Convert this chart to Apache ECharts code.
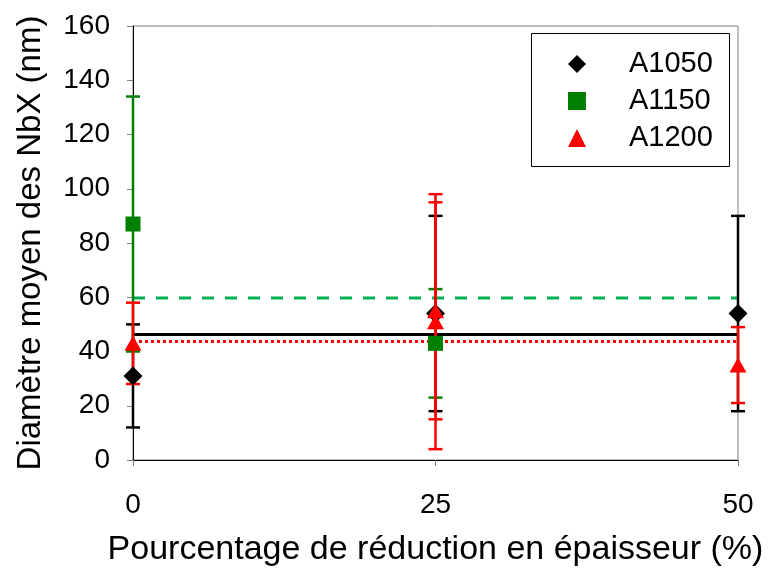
<!DOCTYPE html>
<html>
<head>
<meta charset="utf-8">
<script src="https://cdn.jsdelivr.net/npm/echarts@6/dist/echarts.min.js"></script>
<style>
html,body{margin:0;padding:0;background:#fff;}
#chart{width:769px;height:572px;}
</style>
</head>
<body>
<div id="chart"></div>
<script>
// ---- data ----
const seriesNames = ['A1050', 'A1150', 'A1200'];
const xTicks = [0, 25, 50];

const a1050X = [0, 25, 50];
const a1050Mean = [31, 54, 54];
const a1050Low = [12, 18, 18];
const a1050High = [50, 90, 90];

const a1150X = [0, 25];
const a1150Mean = [87, 43];
const a1150Low = [40, 23];
const a1150High = [134, 63];

const a1200X = [0, 25, 25, 50];
const a1200Mean = [43, 55, 51, 35];
const a1200Low = [28, 15, 4, 21];
const a1200High = [58, 95, 98, 49];

// average (horizontal reference) lines
const avgLineX = [0, 50];
const a1050Avg = 46.3;
const a1150Avg = 59.7;
const a1200Avg = 43.7;

// ---- styles ----
const colors = { A1050: '#000000', A1150: '#008000', A1200: '#FF0000' };
const FONT = '"Liberation Sans", Arial, sans-serif';

function pts(xs, ys) { return xs.map((x, i) => [x, ys[i]]); }
function errData(xs, lo, hi) { return xs.map((x, i) => [x, lo[i], hi[i]]); }

function errorSeries(name, data, color, z) {
  return {
    type: 'custom',
    name: name + '_err',
    z: z,
    silent: true,
    data: data,
    encode: { x: 0, y: [1, 2] },
    renderItem: function (params, api) {
      const x = api.value(0);
      const top = api.coord([x, api.value(2)]);
      const bot = api.coord([x, api.value(1)]);
      const hw = 7;
      const style = { stroke: color, lineWidth: 2.5 };
      return {
        type: 'group',
        children: [
          { type: 'line', shape: { x1: top[0], y1: top[1], x2: bot[0], y2: bot[1] }, style: style },
          { type: 'line', shape: { x1: top[0] - hw, y1: top[1], x2: top[0] + hw, y2: top[1] }, style: style },
          { type: 'line', shape: { x1: bot[0] - hw, y1: bot[1], x2: bot[0] + hw, y2: bot[1] }, style: style }
        ]
      };
    }
  };
}

function avgSeries(name, v, color, type, width) {
  return {
    type: 'line',
    name: name + '_avg',
    z: 2,
    silent: true,
    symbol: 'none',
    data: avgLineX.map(x => [x, v]),
    lineStyle: { color: color, width: width, type: type }
  };
}

const chart = echarts.init(document.getElementById('chart'), null, { renderer: 'canvas' });

const option = {
  animation: false,
  backgroundColor: '#ffffff',
  grid: {
    left: 133, right: 31, top: 26, bottom: 111,
    show: true, borderColor: '#808080', borderWidth: 1, backgroundColor: 'transparent'
  },
  graphic: [{
    type: 'rect', z: 5, left: 531, top: 33,
    shape: { width: 198, height: 133 },
    style: { fill: '#ffffff', stroke: '#000000', lineWidth: 1 }
  }],
  legend: {
    z: 10,
    orient: 'vertical',
    left: 563, top: 44,
    padding: 5,
    itemWidth: 18, itemHeight: 18,
    itemGap: 7,
    data: [
      { name: 'A1050', icon: 'diamond', itemStyle: { color: colors.A1050, opacity: 1 } },
      { name: 'A1150', icon: 'rect', itemStyle: { color: colors.A1150, opacity: 1 } },
      { name: 'A1200', icon: 'triangle', itemStyle: { color: colors.A1200, opacity: 1 } }
    ],
    textStyle: { fontFamily: FONT, fontSize: 29, color: '#000', lineHeight: 30, padding: [0, 0, 0, 38] },
    selectedMode: false
  },
  xAxis: {
    type: 'value', min: 0, max: 50, interval: 25,
    name: 'Pourcentage de réduction en épaisseur (%)',
    nameLocation: 'middle', nameGap: 73,
    nameTextStyle: { fontFamily: FONT, fontSize: 34, color: '#000' },
    axisLine: { show: true, onZero: false, lineStyle: { color: '#000', width: 1 } },
    axisTick: { show: true, inside: false, length: 6, lineStyle: { color: '#808080' } },
    axisLabel: { fontFamily: FONT, fontSize: 28, color: '#000', margin: 31, formatter: v => (xTicks.indexOf(v) >= 0 ? String(v) : '') },
    splitLine: { show: false }
  },
  yAxis: {
    type: 'value', min: 0, max: 160, interval: 20,
    name: 'Diamètre moyen des NbX (nm)',
    nameLocation: 'middle', nameGap: 86,
    nameTextStyle: { fontFamily: FONT, fontSize: 33, color: '#000' },
    axisLine: { show: true, lineStyle: { color: '#000', width: 1 } },
    axisTick: { show: true, inside: false, length: 6, lineStyle: { color: '#808080' } },
    axisLabel: { fontFamily: FONT, fontSize: 28, color: '#000', margin: 23 },
    splitLine: { show: false }
  },
  series: [
    avgSeries('A1050', a1050Avg, '#000000', 'solid', 3),
    avgSeries('A1150', a1150Avg, '#00B050', [12, 11], 3),
    avgSeries('A1200', a1200Avg, '#FF0000', [3, 3], 3),
    errorSeries('A1050', errData(a1050X, a1050Low, a1050High), colors.A1050, 3),
    errorSeries('A1150', errData(a1150X, a1150Low, a1150High), colors.A1150, 3),
    errorSeries('A1200', errData(a1200X, a1200Low, a1200High), colors.A1200, 3),
    {
      type: 'scatter', name: 'A1050', z: 4, symbol: 'diamond', symbolSize: 19,
      itemStyle: { color: colors.A1050, opacity: 1 }, data: pts(a1050X, a1050Mean)
    },
    {
      type: 'scatter', name: 'A1150', z: 4, symbol: 'rect', symbolSize: 15,
      itemStyle: { color: colors.A1150, opacity: 1 }, data: pts(a1150X, a1150Mean)
    },
    {
      type: 'scatter', name: 'A1200', z: 4, symbol: 'triangle', symbolSize: [17, 15],
      itemStyle: { color: colors.A1200, opacity: 1 }, data: pts(a1200X, a1200Mean)
    }
  ]
};
chart.setOption(option);
</script>
</body>
</html>
